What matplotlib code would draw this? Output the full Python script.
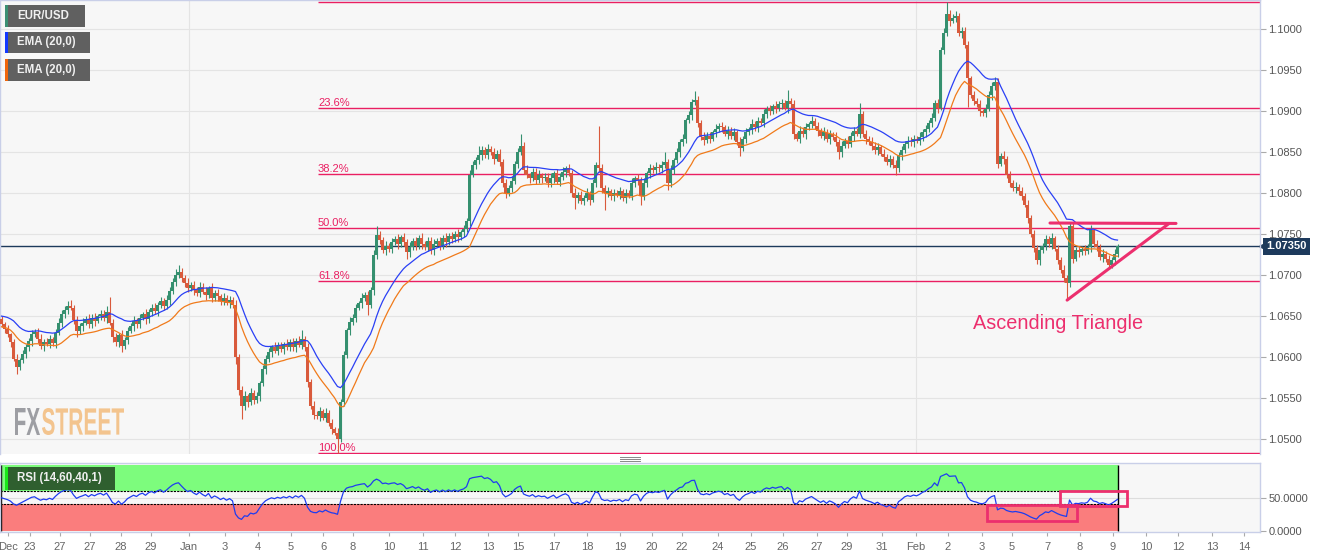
import numpy as np
import pandas as pd
import matplotlib.pyplot as plt
from matplotlib.patches import Rectangle, PathPatch
from matplotlib.textpath import TextPath
from matplotlib.font_manager import FontProperties
from matplotlib.transforms import Affine2D, blended_transform_factory
from matplotlib.lines import Line2D

plt.rcParams['font.family'] = ['Liberation Sans', 'DejaVu Sans']

W, H = 1331, 558

# EUR/USD 2h candles, closes in pips above 1.0000
first_open = 646
closes = [
    640, 634, 628, 618, 598, 588, 596, 604, 612, 620,
    628, 631, 622, 614, 619, 616, 622, 617, 630, 642,
    652, 658, 662, 660, 645, 632, 638, 642, 647, 640,
    648, 644, 650, 653, 648, 655, 642, 624, 618, 627,
    614, 621, 632, 638, 644, 640, 648, 652, 646, 655,
    660, 656, 664, 668, 662, 670, 681, 692, 700, 704,
    697, 690, 684, 688, 682, 678, 686, 680, 676, 684,
    672, 678, 674, 668, 672, 666, 670, 664, 600, 560,
    540, 552, 545, 556, 548, 552, 568, 585, 598, 606,
    612, 608, 614, 610, 616, 612, 618, 612, 620, 615,
    622, 612, 570, 540, 530, 528, 534, 526, 532, 520,
    512, 508, 500, 545, 602, 633, 643, 648, 660, 666,
    672, 676, 663, 682, 724, 749, 743, 730, 736, 732,
    740, 744, 738, 746, 740, 728, 734, 742, 736, 745,
    738, 734, 742, 730, 738, 742, 736, 745, 740, 748,
    744, 750, 746, 752, 756, 766, 822, 834, 840, 846,
    852, 846, 854, 850, 842, 848, 838, 812, 800, 806,
    815, 836, 850, 858, 828, 822, 818, 826, 816, 822,
    818, 820, 812, 818, 824, 814, 820, 826, 830, 824,
    800, 794, 798, 790, 794, 800, 792, 812, 834, 830,
    806, 800, 802, 796, 800, 798, 802, 794, 800, 797,
    812, 818, 816, 796, 812, 824, 830, 828, 832, 830,
    834, 838, 812, 828, 840, 850, 862, 866, 889, 895,
    911, 913, 886, 868, 865, 870, 866, 874, 878, 882,
    880, 872, 876, 870, 874, 862, 855, 866, 874, 878,
    884, 880, 888, 886, 896, 902, 900, 906, 904, 908,
    910, 904, 912, 908, 872, 866, 876, 872, 880, 884,
    888, 882, 876, 870, 874, 866, 872, 868, 862, 850,
    858, 864, 860, 870, 876, 872, 896, 872, 866, 862,
    858, 852, 856, 848, 844, 838, 842, 834, 830, 846,
    852, 860, 864, 862, 866, 864, 868, 874, 878, 886,
    892, 910, 904, 975, 995, 1018, 1010, 1014, 1016, 995,
    998, 980, 940, 920, 912, 908, 900, 898, 903, 920,
    930, 935, 836, 845, 842, 822, 812, 806, 808, 802,
    796, 786, 770, 750, 733, 718, 730, 736, 744, 738,
    745, 732, 718, 706, 697, 690, 760, 720, 730, 728,
    732, 729, 734, 755, 738, 734, 722, 726, 720, 712,
    718, 726, 735,
]
# wick lengths in pips above / below the body
up_wick = [
    4, 3, 5, 2, 4, 6, 3, 5, 4, 3,
    5, 3, 4, 6, 3, 4, 5, 3, 4, 6,
    5, 4, 6, 8, 3, 5, 4, 6, 3, 5,
    4, 6, 3, 5, 4, 7, 18, 4, 5, 3,
    6, 4, 5, 3, 6, 4, 5, 3, 7, 4,
    5, 6, 3, 5, 4, 6, 5, 4, 7, 8,
    5, 3, 6, 4, 5, 3, 6, 4, 5, 3,
    6, 4, 5, 3, 6, 4, 5, 3, 6, 4,
    5, 7, 3, 6, 4, 5, 3, 6, 4, 5,
    3, 6, 4, 5, 3, 6, 4, 5, 3, 6,
    11, 4, 5, 3, 6, 4, 5, 3, 6, 4,
    5, 3, 6, 4, 5, 3, 6, 4, 5, 3,
    6, 4, 5, 3, 6, 11, 5, 4, 6, 3,
    5, 4, 6, 3, 5, 4, 6, 3, 5, 4,
    6, 3, 5, 4, 6, 3, 5, 4, 6, 3,
    5, 4, 6, 3, 5, 4, 6, 5, 4, 12,
    5, 4, 6, 3, 5, 4, 6, 3, 5, 4,
    6, 3, 5, 14, 4, 6, 3, 5, 4, 6,
    3, 5, 4, 6, 3, 5, 4, 6, 3, 5,
    4, 6, 3, 5, 4, 6, 3, 5, 4, 48,
    5, 4, 6, 3, 5, 4, 6, 3, 5, 4,
    6, 3, 5, 4, 6, 3, 5, 4, 6, 3,
    5, 12, 4, 6, 3, 5, 4, 6, 3, 5,
    4, 12, 5, 3, 6, 4, 5, 3, 6, 4,
    5, 3, 6, 4, 5, 3, 6, 4, 5, 3,
    6, 4, 5, 3, 6, 4, 5, 3, 6, 4,
    5, 3, 14, 4, 5, 3, 6, 4, 5, 3,
    6, 4, 5, 3, 6, 4, 5, 3, 6, 4,
    5, 3, 6, 4, 5, 3, 14, 4, 5, 3,
    6, 4, 5, 3, 6, 4, 5, 3, 6, 4,
    5, 3, 6, 4, 5, 3, 6, 4, 5, 3,
    6, 4, 5, 3, 6, 15, 5, 4, 6, 3,
    5, 4, 6, 3, 5, 4, 6, 3, 5, 4,
    6, 7, 5, 4, 6, 3, 5, 4, 6, 3,
    5, 4, 6, 3, 5, 4, 6, 3, 5, 4,
    6, 3, 5, 4, 6, 3, 4, 5, 4, 6,
    3, 5, 4, 6, 3, 5, 4, 6, 3, 5,
    4, 6, 3,
]
down_wick = [
    3, 5, 4, 6, 3, 8, 4, 3, 5, 4,
    6, 3, 5, 4, 6, 3, 5, 4, 6, 3,
    5, 4, 6, 3, 5, 8, 4, 6, 3, 5,
    4, 6, 3, 5, 4, 6, 3, 5, 4, 6,
    8, 4, 5, 3, 6, 4, 5, 3, 6, 4,
    5, 3, 6, 4, 5, 3, 6, 4, 5, 3,
    6, 4, 5, 3, 6, 4, 5, 3, 6, 4,
    5, 3, 6, 4, 5, 3, 6, 4, 8, 6,
    15, 4, 6, 3, 5, 4, 6, 3, 5, 4,
    6, 3, 5, 4, 6, 3, 5, 4, 6, 3,
    5, 4, 6, 3, 5, 4, 6, 3, 5, 4,
    6, 3, 17, 4, 5, 3, 6, 4, 5, 3,
    6, 4, 12, 3, 6, 4, 5, 3, 6, 4,
    5, 3, 6, 4, 5, 8, 6, 3, 5, 4,
    6, 3, 5, 4, 6, 3, 5, 4, 6, 3,
    5, 4, 6, 3, 5, 4, 6, 3, 5, 4,
    6, 3, 5, 4, 6, 3, 5, 4, 6, 3,
    5, 4, 6, 3, 5, 4, 6, 3, 5, 4,
    6, 3, 5, 4, 6, 3, 5, 4, 6, 3,
    5, 14, 6, 3, 5, 4, 6, 3, 5, 4,
    6, 21, 5, 4, 6, 3, 5, 4, 6, 3,
    5, 4, 6, 10, 5, 4, 6, 3, 5, 4,
    6, 3, 8, 4, 5, 3, 6, 4, 5, 3,
    6, 4, 5, 3, 6, 4, 5, 3, 6, 4,
    5, 3, 6, 4, 5, 3, 10, 4, 5, 3,
    6, 4, 5, 3, 6, 4, 5, 3, 6, 4,
    5, 3, 6, 4, 6, 3, 5, 4, 6, 3,
    5, 4, 6, 3, 5, 4, 6, 3, 5, 8,
    6, 3, 5, 4, 6, 3, 5, 4, 6, 3,
    5, 4, 6, 3, 5, 4, 6, 3, 8, 4,
    6, 3, 5, 4, 6, 3, 5, 4, 6, 3,
    5, 4, 6, 3, 5, 4, 6, 3, 5, 4,
    6, 3, 35, 4, 5, 3, 6, 4, 5, 3,
    6, 4, 5, 3, 6, 4, 5, 3, 6, 4,
    5, 3, 6, 4, 5, 5, 6, 3, 5, 4,
    6, 3, 5, 4, 6, 20, 4, 5, 3, 6,
    4, 5, 3, 6, 4, 5, 3, 6, 4, 5,
    3, 6, 4,
]

tick_labels = ["Dec", "23", "27", "27", "28", "29", "Jan", "3", "4", "5", "6", "8",
               "10", "11", "12", "13", "15", "17", "18", "19", "20", "22", "24",
               "25", "26", "27", "29", "31", "Feb", "2", "3", "5", "7", "8", "9",
               "10", "12", "13", "14"]
tick_idx = [2.2, 9.5, 19.5, 29.5, 39.8, 49.8, 62.5, 74.5, 85.5, 96.5, 107.2, 117.2,
            129.2, 140.5, 151.2, 162.2, 172.2, 184.2, 195.2, 206.2, 216.8, 226.8, 238.8,
            249.8, 260.5, 271.8, 281.8, 293.5, 304.8, 315.5, 326.8, 336.8, 348.5, 359.5, 370.5,
            381.5, 392.2, 403.5, 414.2]
month_idx = [62.5, 304.8]

fib_high = 1.1033
fib_low = 1.0483
fib_levels = [0.236, 0.382, 0.5, 0.618]
fib_start = 105.5
last_price = 1.0735

tri_top_x, tri_top_y = [349.5, 391.5], [1.07635, 1.07630]
tri_low_x, tri_low_y = [355.2, 389.2], [1.06695, 1.07630]

rsi_boxes = [(328.5, 15.0, 358.5, 39.5), (352.8, 38.0, 375.2, 60.6)]

GREEN = '#35906f'
RED = '#d95a3c'
PINK = '#ea1f62'
NAVY = '#1d3a5c'
LAV = '#c9cfe8'

c = 1 + np.array(closes) / 10000.0
o = np.r_[1 + first_open / 10000.0, c[:-1]]
hi = np.maximum(o, c) + np.array(up_wick) / 10000.0
lo = np.minimum(o, c) - np.array(down_wick) / 10000.0
n = len(c)
idx = np.arange(n)

ema_hi = pd.Series(hi).ewm(span=20, adjust=False).mean()
ema_lo = pd.Series(lo).ewm(span=20, adjust=False).mean()

d = np.diff(c)
ag = np.mean(np.abs(d[:14]))
al = ag
rsi = [50.0]
for g, l in zip(np.clip(d, 0, None), np.clip(-d, 0, None)):
    ag = (ag * 13 + g) / 14
    al = (al * 13 + l) / 14
    rsi.append(100 * ag / (ag + al))
rsi = np.array(rsi)

fig = plt.figure(figsize=(W / 100, H / 100), dpi=100)
ax = fig.add_axes([0, 1 - 453.5 / H, 1260 / W, 453.5 / H])
rx = fig.add_axes([0, 1 - 532 / H, 1260 / W, 69 / H])

for a in (ax, rx):
    a.set_facecolor('#f7f7f7')
    a.set_xlim(-0.5, 419.5)
    for s in a.spines.values():
        s.set_color(LAV)
        s.set_linewidth(1.0)
    a.yaxis.tick_right()
    a.tick_params(axis='y', length=4, width=0.8, color='#aaaaaa', labelcolor='#555555',
                  labelsize=8, pad=2)

# main panel
ax.set_ylim(1.04825, 1.10354)
yt = np.arange(1.05, 1.1001, 0.005)
ax.set_yticks(yt, [f"{v:.4f}" for v in yt])
ax.set_xticks([])
ax.spines['bottom'].set_visible(False)
for v in yt:
    ax.axhline(v, color='#e4e4e4', lw=0.8, zorder=0)
for m in month_idx:
    ax.axvline(m, color='#e4e4e4', lw=0.8, zorder=0)

rng = fib_high - fib_low
ax.hlines([fib_high, fib_low], fib_start, 419.5, color=PINK, lw=1.0, zorder=1)
for f in fib_levels:
    lv = fib_high - f * rng
    ax.hlines(lv, fib_start, 419.5, color=PINK, lw=1.0, zorder=1)
    ax.text(fib_start, lv, f"{f*100:.1f}%", ha='left', va='bottom', color=PINK,
            fontsize=8, zorder=1)
ax.text(fib_start, fib_low, "100.0%", ha='left', va='bottom', color=PINK, fontsize=8, zorder=1)

ax.axhline(last_price, color=NAVY, lw=1.0, zorder=2)

cols = np.where(c >= o, GREEN, RED)
ax.vlines(idx, lo, hi, colors=cols, lw=0.8, zorder=3)
ax.bar(idx, np.maximum(np.abs(c - o), 0.00008), bottom=np.minimum(o, c), width=0.72,
       color=cols, linewidth=0, zorder=3)
ax.plot(idx, ema_hi, color='#2a40f5', lw=0.9, zorder=4)
ax.plot(idx, ema_lo, color='#f07a1a', lw=0.9, zorder=4)

ax.plot(tri_top_x, tri_top_y, color='#ec2f6e', lw=2.2, solid_capstyle='round', zorder=5)
ax.plot(tri_low_x, tri_low_y, color='#ec2f6e', lw=2.2, solid_capstyle='round', zorder=5)
ax.text(323.8, 1.06415, "Ascending Triangle", ha='left', va='center', fontsize=14.3,
        color='#ec2f6e', zorder=5)

bt = blended_transform_factory(ax.transAxes, ax.transData)
ax.plot([1.0015], [last_price], marker='<', ms=5, color=NAVY, transform=bt, clip_on=False)
ax.text(1.0052, last_price, "1.07350", transform=bt, ha='left', va='center', color='white',
        fontsize=8, fontweight='bold', clip_on=False,
        bbox=dict(boxstyle='square,pad=0.28', fc=NAVY, ec='none'))

# RSI panel
rx.set_ylim(-1.5, 102.5)
rx.set_yticks([0, 50], ["0.0000", "50.0000"])
rx.axhline(50, color='#dddddd', lw=0.8, zorder=0)
rx.fill_between([-0.5, 372.2], 60, 100, color='#7dfc7d', lw=0, zorder=1)
rx.fill_between([-0.5, 372.2], 0, 40, color='#fa7d7d', lw=0, zorder=1)
rx.hlines([60, 40], -0.5, 372.2, color='black', lw=0.8, linestyles=(0, (2, 1)), zorder=2)
rx.vlines([-0.2, 372.2], 0, 100, color='black', lw=1.0, zorder=2)
rx.plot(idx, rsi, color='#1e3cf0', lw=0.9, zorder=3)
for x0, y0, x1, y1 in rsi_boxes:
    rx.add_patch(Rectangle((x0, y0), x1 - x0, y1 - y0, fill=False, ec='#ec2f6e', lw=2.0,
                           zorder=4, clip_on=False))
rx.set_xticks(tick_idx, tick_labels)
rx.tick_params(axis='x', length=3, width=0.8, color='#aaaaaa', labelcolor='#666666',
               labelsize=8, pad=4)


def frect(x, y, w, h, color, alpha=1.0):
    fig.add_artist(Rectangle((x / W, 1 - (y + h) / H), w / W, h / H, transform=fig.transFigure,
                             fc=color, ec='none', alpha=alpha))


def ftext(x, y, s, **kw):
    fig.text(x / W, 1 - y / H, s, ha='left', va='center', **kw)


# legend chips
for (y, h, strip, label) in [(5, 22, '#3b8f73', "EUR/USD"), (32, 21, '#1238ff', "EMA (20,0)"),
                             (59, 22, '#f0650a', "EMA (20,0)")]:
    w = 80 if label == "EUR/USD" else 85
    frect(5, y, w, h, '#606060')
    frect(5, y, 2.5, h, strip)
    ftext(17, y + h / 2, label, color='#f0f0f0', fontsize=8.3, fontweight='bold')

frect(5, 467, 110, 23, '#2f5f2f')
frect(5, 467, 3, 23, '#19e619')
ftext(17, 478.5, "RSI (14,60,40,1)", color='#f0f0f0', fontsize=8.3, fontweight='bold')

# panel handle
for yy in (457, 459, 461):
    fig.add_artist(Line2D([620 / W, 640 / W], [1 - yy / H, 1 - yy / H], color='#888888', lw=0.7,
                          transform=fig.transFigure))

# logo
fp = FontProperties(family='Liberation Sans', weight='bold')


def logo_part(txt, x0, x1, y0, y1, color):
    tp = TextPath((0, 0), txt, size=100, prop=fp)
    bb = tp.get_extents()
    tr = (Affine2D().translate(-bb.x0, -bb.y0)
          .scale((x1 - x0) / bb.width / W, (y1 - y0) / bb.height / H)
          .translate(x0 / W, 1 - y1 / H) + fig.transFigure)
    fig.add_artist(PathPatch(tp, transform=tr, fc=color, ec='none'))


logo_part("FX", 15, 40, 408, 435, '#9d9ea3')
logo_part("STREET", 42, 124, 408, 435, '#f3c48e')

fig.savefig("out.png", dpi=100)
